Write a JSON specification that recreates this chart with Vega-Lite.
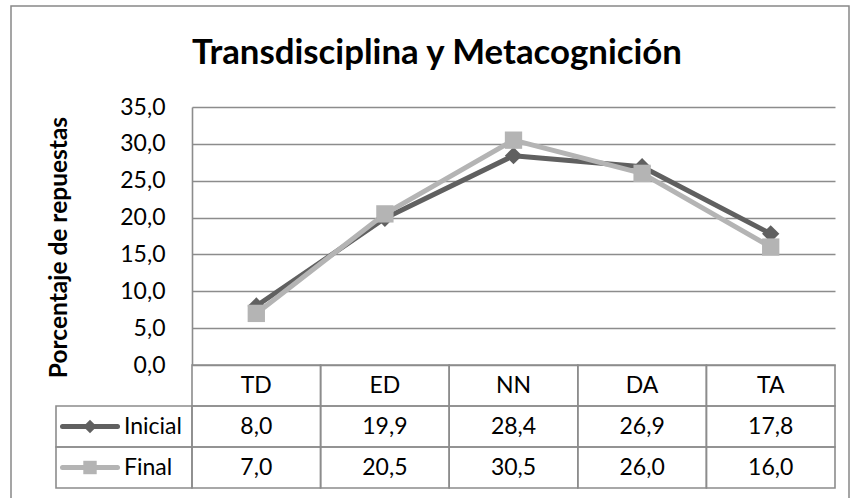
{
  "$schema": "https://vega.github.io/schema/vega-lite/v6.json",
  "width": 838,
  "height": 500,
  "autosize": {"type": "none"},
  "padding": {"left": 11, "top": 6, "right": 2, "bottom": 0},
  "background": "white",
  "config": {
    "font": "Lato",
    "view": {"stroke": "#888888", "strokeWidth": 1.5},
    "locale": {"number": {"decimal": ",", "thousands": ".", "grouping": [3], "currency": ["", " €"]}}
  },
  "title": {
    "text": "Transdisciplina y Metacognición",
    "font": "Lato",
    "fontSize": 34.8,
    "fontWeight": "bold",
    "color": "black",
    "anchor": "middle",
    "baseline": "alphabetic",
    "offset": -57,
    "dy": 36,
    "dx": 7
  },
  "datasets": {
    "datos": [
      {"cat": "TD", "serie": "Inicial", "valor": 8.0},
      {"cat": "ED", "serie": "Inicial", "valor": 19.9},
      {"cat": "NN", "serie": "Inicial", "valor": 28.4},
      {"cat": "DA", "serie": "Inicial", "valor": 26.9},
      {"cat": "TA", "serie": "Inicial", "valor": 17.8},
      {"cat": "TD", "serie": "Final", "valor": 7.0},
      {"cat": "ED", "serie": "Final", "valor": 20.5},
      {"cat": "NN", "serie": "Final", "valor": 30.5},
      {"cat": "DA", "serie": "Final", "valor": 26.0},
      {"cat": "TA", "serie": "Final", "valor": 16.0}
    ],
    "categorias": [{"cat": "TD"}, {"cat": "ED"}, {"cat": "NN"}, {"cat": "DA"}, {"cat": "TA"}],
    "series": [{"serie": "Inicial"}, {"serie": "Final"}]
  },
  "layer": [
    {
      "data": {"name": "datos"},
      "encoding": {
        "x": {"field": "cat", "type": "nominal", "scale": {"type": "band", "domain": ["TD", "ED", "NN", "DA", "TA"], "range": [181, 824], "paddingInner": 0, "paddingOuter": 0}, "axis": null},
        "y": {
          "field": "valor", "type": "quantitative",
          "scale": {"domain": [0, 35], "range": [359, 101], "nice": false, "zero": false},
          "axis": {
            "orient": "left", "offset": -181, "values": [0, 5, 10, 15, 20, 25, 30, 35], "format": ".1f",
            "grid": true, "gridColor": "#8c8c8c", "gridWidth": 1.6,
            "domain": true, "domainColor": "#8c8c8c", "domainWidth": 1.6,
            "ticks": false, "tickSize": 0, "labelPadding": 27, "labelFontSize": 23, "labelColor": "black", "labelFont": "Lato",
            "title": "Porcentaje de repuestas", "titleFont": "Lato", "titleFontSize": 24.5, "titleFontWeight": "bold", "titleColor": "black",
            "titlePadding": 48, "titleY": 241
          }
        },
        "color": {"field": "serie", "type": "nominal", "scale": {"domain": ["Inicial", "Final"], "range": ["#606060", "#b4b4b4"]}, "legend": null}
      },
      "layer": [
        {"mark": {"type": "line", "strokeWidth": 5, "strokeJoin": "round"}},
        {"mark": {"type": "point", "filled": true, "size": 300, "opacity": 1},
         "encoding": {"shape": {"field": "serie", "type": "nominal", "scale": {"domain": ["Inicial", "Final"], "range": ["diamond", "square"]}, "legend": null}}}
      ]
    },
    {
      "layer": [
        {
          "data": {"name": "datos"},
          "mark": {"type": "rect", "fill": "transparent", "stroke": "#8c8c8c", "strokeWidth": 1.6},
          "encoding": {
            "x": {"field": "cat", "type": "nominal", "scale": {"type": "band", "domain": ["TD", "ED", "NN", "DA", "TA"], "range": [181, 824], "paddingInner": 0, "paddingOuter": 0}, "axis": null},
            "y": {"field": "serie", "type": "nominal", "scale": {"type": "band", "domain": ["Encabezado", "Inicial", "Final"], "range": [359, 482], "paddingInner": 0, "paddingOuter": 0}, "axis": null}
          }
        },
        {
          "data": {"name": "datos"},
          "mark": {"type": "text", "fontSize": 23, "color": "black", "baseline": "middle"},
          "encoding": {
            "x": {"field": "cat", "type": "nominal"},
            "y": {"field": "serie", "type": "nominal"},
            "text": {"field": "valor", "type": "quantitative", "format": ".1f"}
          }
        },
        {
          "data": {"name": "categorias"},
          "mark": {"type": "rect", "fill": "transparent", "stroke": "#8c8c8c", "strokeWidth": 1.6},
          "encoding": {
            "x": {"field": "cat", "type": "nominal"},
            "y": {"datum": "Encabezado", "type": "nominal"}
          }
        },
        {
          "data": {"name": "categorias"},
          "mark": {"type": "text", "fontSize": 23, "color": "black", "baseline": "middle"},
          "encoding": {
            "x": {"field": "cat", "type": "nominal"},
            "y": {"datum": "Encabezado", "type": "nominal"},
            "text": {"field": "cat", "type": "nominal"}
          }
        }
      ]
    },
    {
      "data": {"name": "series"},
      "mark": {"type": "rect", "fill": "transparent", "stroke": "#8c8c8c", "strokeWidth": 1.6},
      "encoding": {
        "x": {"datum": "leyenda", "type": "nominal", "scale": {"type": "band", "domain": ["leyenda"], "range": [45, 181], "paddingInner": 0, "paddingOuter": 0}, "axis": null},
        "y": {"field": "serie", "type": "nominal", "scale": {"type": "band", "domain": ["Encabezado", "Inicial", "Final"], "range": [359, 482], "paddingInner": 0, "paddingOuter": 0}, "axis": null}
      }
    },
    {
      "data": {"name": "series"},
      "encoding": {
        "y": {"field": "serie", "type": "nominal", "scale": {"type": "band", "domain": ["Encabezado", "Inicial", "Final"], "range": [359, 482], "paddingInner": 0, "paddingOuter": 0}, "axis": null}
      },
      "layer": [
        {
          "mark": {"type": "point", "shape": "M-1,0L1,0", "size": 3025, "strokeWidth": 5, "filled": false, "strokeCap": "round", "opacity": 1},
          "encoding": {
            "x": {"datum": "simbolo", "type": "nominal", "scale": {"type": "band", "domain": ["simbolo", "nombre"], "range": [45, 181], "paddingInner": 0, "paddingOuter": 0}, "axis": null},
            "color": {"field": "serie", "type": "nominal", "scale": {"domain": ["Inicial", "Final"], "range": ["#606060", "#b4b4b4"]}, "legend": null}
          }
        },
        {
          "mark": {"type": "point", "filled": true, "size": 180, "opacity": 1},
          "encoding": {
            "x": {"datum": "simbolo", "type": "nominal"},
            "color": {"field": "serie", "type": "nominal", "legend": null},
            "shape": {"field": "serie", "type": "nominal", "legend": null}
          }
        },
        {
          "mark": {"type": "text", "align": "left", "baseline": "middle", "fontSize": 23, "color": "black"},
          "encoding": {
            "x": {"datum": "nombre", "type": "nominal", "bandPosition": 0},
            "text": {"field": "serie", "type": "nominal"}
          }
        }
      ]
    }
  ],
  "resolve": {
    "scale": {"x": "independent", "y": "independent"},
    "axis": {"x": "independent", "y": "independent"}
  }
}
